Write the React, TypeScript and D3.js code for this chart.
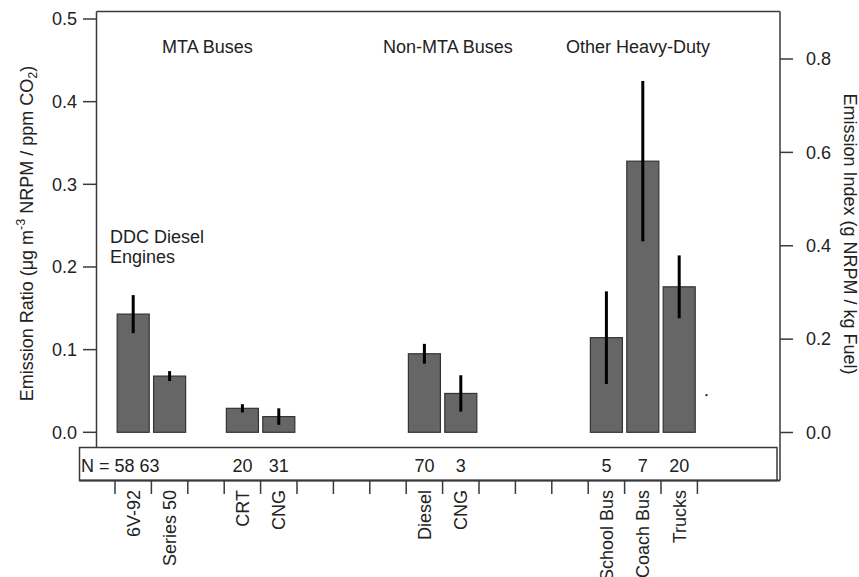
import React from "react";
import * as d3 from "d3";

// Vehicle categories along the x axis (empty strings are spacer slots)
const categories = [
  "6V-92", "Series 50", "", "CRT", "CNG", "", "", "",
  "Diesel", "CNG", "", "", "", "School Bus", "Coach Bus", "Trucks",
];
// Mean emission ratio (µg m-3 NRPM / ppm CO2) per category
const ratios: (number | null)[] = [
  0.143, 0.068, null, 0.029, 0.019, null, null, null,
  0.095, 0.047, null, null, null, 0.1145, 0.328, 0.176,
];
// Error bar half-widths
const errors: (number | null)[] = [
  0.023, 0.006, null, 0.005, 0.01, null, null, null,
  0.012, 0.022, null, null, null, 0.056, 0.097, 0.038,
];
// Number of vehicles sampled per category
const counts: (number | null)[] = [
  58, 63, null, 20, 31, null, null, null,
  70, 3, null, null, null, 5, 7, 20,
];
const leftTicks = [0, 0.1, 0.2, 0.3, 0.4, 0.5];
const rightTicks = [0, 0.2, 0.4, 0.6, 0.8];
const groupLabels = ["MTA Buses", "Non-MTA Buses", "Other Heavy-Duty"];
// A lone marker point: [slot position, ratio]
const strayPoints: [number, number][] = [[16.25, 0.045]];

const W = 859;
const H = 577;
const FONT = "'Liberation Sans', Arial, Helvetica, sans-serif";
const FS = 18;
const LINE = "#3a3a3a";

export default function App() {
  const frameLeft = 96.5;
  const frameRight = 780;
  const frameTop = 11.5;
  const nTop = 447.5;
  const nBottom = 480.5;
  const nLeft = 79.5;
  const nRight = 777;

  const yL = d3.scaleLinear().domain([0, 0.5]).range([432.3, 19]);
  const yR = d3.scaleLinear().domain([0, 0.8]).range([432.5, 59]);
  const x = d3
    .scaleBand<number>()
    .domain(d3.range(categories.length))
    .range([115, 697.4])
    .padding(0);
  const slot = d3.scaleLinear().domain([0, categories.length]).range(x.range());
  const bw = x.bandwidth();
  const barW = bw * 0.88;
  const fmt = d3.format(".1f");

  const tickXs = d3.range(categories.length + 1).map((i) => slot(i));

  return (
    <svg
      width={W}
      height={H}
      style={{ position: "absolute", left: 0, top: 0, background: "#fff" }}
      fontFamily={FONT}
      fontSize={FS}
      fill="#222"
    >
      {/* bars */}
      {ratios.map((v, i) =>
        v == null ? null : (
          <rect
            key={"b" + i}
            x={(x(i) as number) + (bw - barW) / 2}
            y={yL(v)}
            width={barW}
            height={yL(0) - yL(v)}
            fill="#666"
            stroke="#333"
            strokeWidth={1.2}
          />
        )
      )}
      {/* error bars */}
      {ratios.map((v, i) => {
        const e = errors[i];
        if (v == null || e == null) return null;
        const cx = (x(i) as number) + bw / 2;
        return (
          <line
            key={"e" + i}
            x1={cx}
            x2={cx}
            y1={yL(v + e)}
            y2={yL(v - e)}
            stroke="#000"
            strokeWidth={3}
          />
        );
      })}
      {strayPoints.map(([s, v], i) => (
        <rect key={"p" + i} x={slot(s) - 1} y={yL(v) - 1} width={2} height={2} fill="#222" />
      ))}

      {/* plot frame */}
      <line x1={frameLeft} x2={frameRight} y1={frameTop} y2={frameTop} stroke={LINE} strokeWidth={1.5} />
      <line x1={frameLeft} x2={frameLeft} y1={frameTop} y2={nTop} stroke={LINE} strokeWidth={1.5} />
      <line x1={frameRight} x2={frameRight} y1={frameTop} y2={nBottom} stroke={LINE} strokeWidth={1.5} />
      {/* N row box */}
      <rect
        x={nLeft}
        y={nTop}
        width={nRight - nLeft}
        height={nBottom - nTop}
        fill="none"
        stroke={LINE}
        strokeWidth={1.5}
      />
      <line x1={nLeft} x2={frameRight} y1={nBottom} y2={nBottom} stroke={LINE} strokeWidth={2} />

      {/* left axis */}
      {leftTicks.map((t) => (
        <g key={"lt" + t}>
          <line x1={83} x2={frameLeft} y1={yL(t)} y2={yL(t)} stroke={LINE} strokeWidth={1.5} />
          <text x={77} y={yL(t)} dy="0.35em" textAnchor="end">
            {fmt(t)}
          </text>
        </g>
      ))}
      {/* right axis */}
      {rightTicks.map((t) => (
        <g key={"rt" + t}>
          <line x1={frameRight} x2={793} y1={yR(t)} y2={yR(t)} stroke={LINE} strokeWidth={1.5} />
          <text x={806} y={yR(t)} dy="0.35em" textAnchor="start">
            {fmt(t)}
          </text>
        </g>
      ))}

      {/* category ticks under the N row */}
      {tickXs.map((tx, i) => (
        <line key={"ct" + i} x1={tx} x2={tx} y1={nBottom} y2={494} stroke={LINE} strokeWidth={1.5} />
      ))}
      {categories.map((c, i) =>
        c === "" ? null : (
          <text
            key={"cl" + i}
            transform={`translate(${(x(i) as number) + bw / 2 + 6.5},490) rotate(-90)`}
            textAnchor="end"
          >
            {c}
          </text>
        )
      )}

      {/* sample counts */}
      <text x={81} y={471.5}>{`N = ${counts[0]} ${counts[1]}`}</text>
      {counts.map((n, i) =>
        n == null || i < 2 ? null : (
          <text key={"n" + i} x={(x(i) as number) + bw / 2} y={471.5} textAnchor="middle">
            {n}
          </text>
        )
      )}

      {/* group labels */}
      <text x={162} y={52.5}>{groupLabels[0]}</text>
      <text x={383} y={52.5}>{groupLabels[1]}</text>
      <text x={566} y={52.5}>{groupLabels[2]}</text>
      <text x={110} y={242.7}>DDC Diesel</text>
      <text x={110} y={262.7}>Engines</text>

      {/* axis titles */}
      <text transform="translate(33,233.5) rotate(-90)" textAnchor="middle">
        Emission Ratio (μg m
        <tspan fontSize={FS * 0.7} dy={-8}>-3</tspan>
        <tspan dy={8}> NRPM / ppm CO</tspan>
        <tspan fontSize={FS * 0.7} dy={4}>2</tspan>
        <tspan dy={-4}>)</tspan>
      </text>
      <text transform="translate(843.5,234) rotate(90)" textAnchor="middle">
        Emission Index (g NRPM / kg Fuel)
      </text>
    </svg>
  );
}
